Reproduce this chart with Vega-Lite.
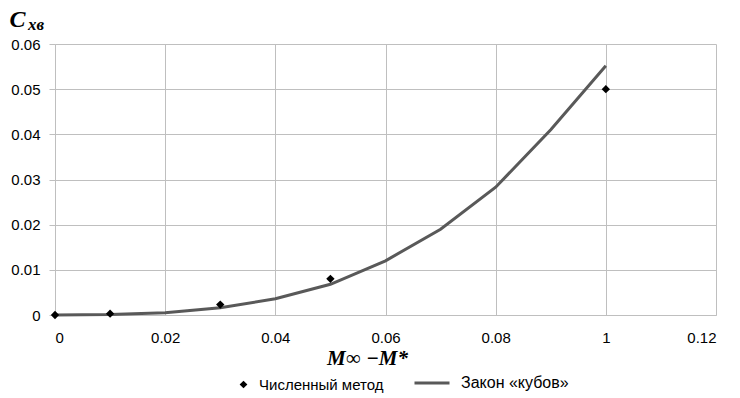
{
  "$schema": "https://vega.github.io/schema/vega-lite/v6.json",
  "width": 661,
  "height": 271,
  "autosize": {"type": "none"},
  "padding": {"left": 55, "top": 44, "right": 24, "bottom": 83},
  "background": "white",
  "title": {
    "text": "xв",
    "anchor": "start",
    "frame": "group",
    "font": "Liberation Serif",
    "fontStyle": "italic",
    "fontWeight": "bold",
    "fontSize": 17,
    "color": "black",
    "baseline": "bottom",
    "dx": -27,
    "offset": -44
  },
  "config": {
    "view": {"stroke": null},
    "axis": {
      "labelFont": "Liberation Sans",
      "labelFontSize": 15,
      "labelColor": "black",
      "gridColor": "#bfbfbf",
      "gridWidth": 1,
      "domainColor": "#bfbfbf",
      "tickColor": "#bfbfbf"
    }
  },
  "datasets": {
    "law": [
      {"x": 0.0, "y": 0.0, "series": "Закон «кубов»"},
      {"x": 0.01, "y": 0.0001, "series": "Закон «кубов»"},
      {"x": 0.02, "y": 0.0005, "series": "Закон «кубов»"},
      {"x": 0.03, "y": 0.0016, "series": "Закон «кубов»"},
      {"x": 0.04, "y": 0.0036, "series": "Закон «кубов»"},
      {"x": 0.05, "y": 0.0068, "series": "Закон «кубов»"},
      {"x": 0.06, "y": 0.012, "series": "Закон «кубов»"},
      {"x": 0.07, "y": 0.019, "series": "Закон «кубов»"},
      {"x": 0.08, "y": 0.0283, "series": "Закон «кубов»"},
      {"x": 0.09, "y": 0.041, "series": "Закон «кубов»"},
      {"x": 0.1, "y": 0.0552, "series": "Закон «кубов»"}
    ],
    "num": [
      {"x": 0.0, "y": 0.0, "series": "Численный метод"},
      {"x": 0.01, "y": 0.0003, "series": "Численный метод"},
      {"x": 0.03, "y": 0.0023, "series": "Численный метод"},
      {"x": 0.05, "y": 0.008, "series": "Численный метод"},
      {"x": 0.1, "y": 0.05, "series": "Численный метод"}
    ]
  },
  "layer": [
    {
      "data": {"name": "law"},
      "mark": {"type": "line", "strokeWidth": 3},
      "encoding": {
        "x": {
          "field": "x", "type": "quantitative",
          "scale": {"domain": [0, 0.12], "nice": false, "zero": true},
          "axis": {
            "values": [0, 0.02, 0.04, 0.06, 0.08, 0.1, 0.12],
            "labelExpr": "datum.value == 0.1 ? '1' : format(datum.value, '.2~f')",
            "ticks": false,
            "labelPadding": 15,
            "title": "M∞ −M*",
            "titleFont": "Liberation Serif",
            "titleFontStyle": "italic",
            "titleFontWeight": "bold",
            "titleFontSize": 21,
            "titleColor": "black",
            "titlePadding": 2,
            "titleX": 312
          }
        },
        "y": {
          "field": "y", "type": "quantitative",
          "scale": {"domain": [0, 0.06], "nice": false},
          "axis": {
            "values": [0, 0.01, 0.02, 0.03, 0.04, 0.05, 0.06],
            "labelExpr": "datum.value == 0 ? '0' : format(datum.value, '.2f')",
            "tickSize": 6,
            "labelPadding": 9,
            "title": "C",
            "titleAngle": 0,
            "titleFont": "Liberation Serif",
            "titleFontStyle": "italic",
            "titleFontWeight": "bold",
            "titleFontSize": 24,
            "titleColor": "black",
            "titleX": -46,
            "titleY": -18,
            "titleAlign": "left",
            "titleBaseline": "alphabetic"
          }
        },
        "color": {
          "field": "series", "type": "nominal",
          "scale": {"range": ["#595959"]},
          "legend": {
            "title": null,
            "orient": "none",
            "legendX": 358,
            "legendY": 320,
            "symbolType": "stroke",
            "symbolStrokeWidth": 3,
            "symbolSize": 1225,
            "labelFont": "Liberation Sans",
            "labelFontSize": 16,
            "labelColor": "black",
            "labelOffset": 10
          }
        }
      }
    },
    {
      "data": {"name": "num"},
      "mark": {"type": "point", "filled": true, "opacity": 1, "size": 70, "color": "black"},
      "encoding": {
        "x": {"field": "x", "type": "quantitative"},
        "y": {"field": "y", "type": "quantitative"},
        "shape": {
          "field": "series", "type": "nominal",
          "scale": {"range": ["diamond"]},
          "legend": {
            "title": null,
            "orient": "none",
            "legendX": 181,
            "legendY": 333,
            "symbolFillColor": "black",
            "symbolStrokeColor": "black",
            "symbolSize": 60,
            "labelFont": "Liberation Sans",
            "labelFontSize": 15,
            "labelColor": "black",
            "labelOffset": 8
          }
        }
      }
    }
  ]
}
